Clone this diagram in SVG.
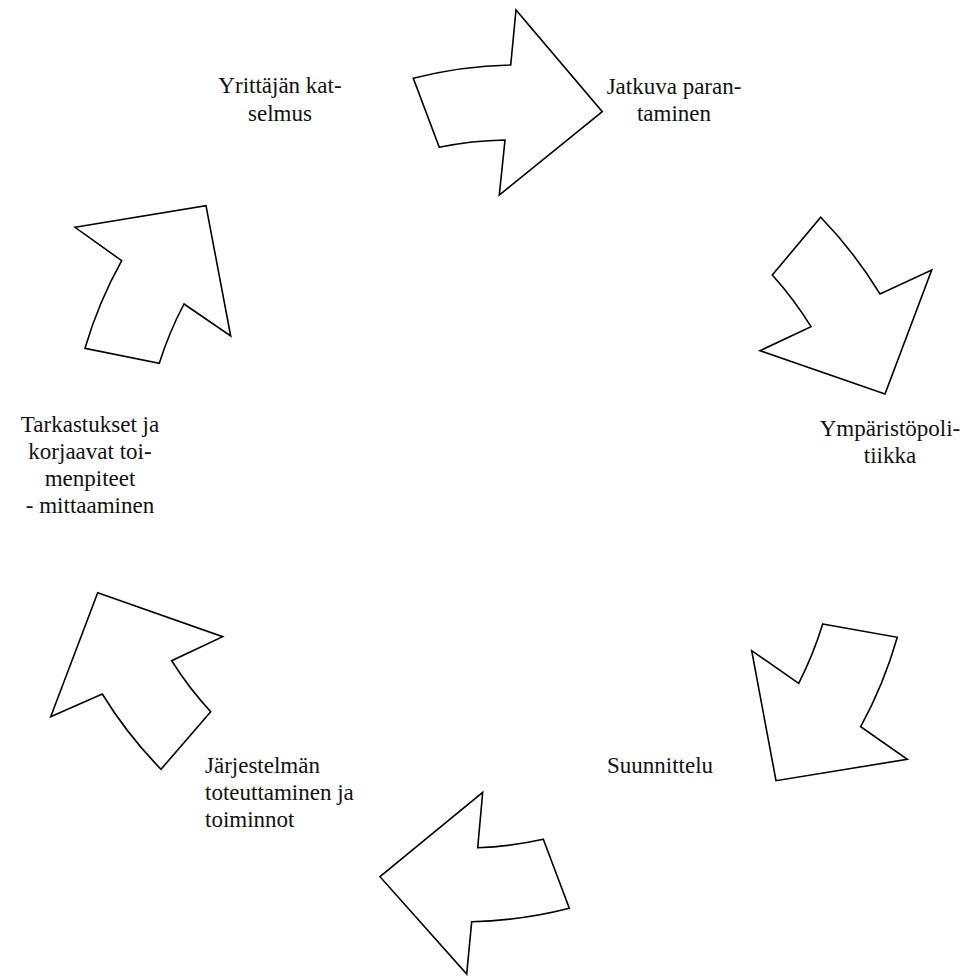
<svg xmlns="http://www.w3.org/2000/svg" width="975" height="976" viewBox="0 0 975 976">
<style>
.arrow{fill:#ffffff;stroke:#000000;stroke-width:1.6;stroke-linejoin:miter}
.c{text-anchor:middle}
</style>
<rect width="975" height="976" fill="#ffffff"/>
<g id="connectors">
<g id="arrow1"><path class="arrow" d="M413.3,78.3 A425,425 0 0 1 510.7,65 L516,10 L602.3,111.7 L499.3,195 L505,140 A350,350 0 0 0 439.3,147.3 Z"/></g>
<g id="arrow2"><path class="arrow" d="M820.7,217.3 A432,432 0 0 1 880,294 L931.7,270 L885,394 L760,350.7 L811,326.7 A357,357 0 0 0 772.3,275 Z"/></g>
<g id="arrow3"><path class="arrow" d="M822.7,624 L897.3,637.3 A437,437 0 0 1 860.7,726.7 L907.3,759.3 L776,780.7 L751.7,650.7 L798.7,683.3 A363,363 0 0 0 822.7,624 Z"/></g>
<g id="arrow4"><path class="arrow" d="M482.7,792.3 L477.7,847.7 A356,356 0 0 0 543.3,839.3 L569.3,908.3 A429,429 0 0 1 471.7,921.7 L466.7,974 L380,876.7 Z"/></g>
<g id="arrow5"><path class="arrow" d="M97.7,592.7 L222.7,636.7 L171.7,660.7 A356,356 0 0 0 210.7,711.7 L161,769.3 A432,432 0 0 1 102.3,694 L50.7,716.7 Z"/></g>
<g id="arrow6"><path class="arrow" d="M75,227.3 L206,205.7 L230.7,336 L184,304 A353,353 0 0 0 159.3,363.3 L85,348.3 A428,428 0 0 1 121.7,260.7 Z"/></g>
</g>
<g font-family="Liberation Serif, serif" font-size="23" fill="#111111">
<g id="node-yrittajan">
<text class="c" x="280" y="93">Yrittäjän kat-</text>
<text class="c" x="280" y="121">selmus</text>
</g>
<g id="node-jatkuva">
<text class="c" x="674" y="94">Jatkuva paran-</text>
<text class="c" x="674" y="121">taminen</text>
</g>
<g id="node-ymparisto">
<text class="c" x="890" y="436">Ympäristöpoli-</text>
<text class="c" x="890" y="463">tiikka</text>
</g>
<g id="node-suunnittelu">
<text x="607" y="773">Suunnittelu</text>
</g>
<g id="node-jarjestelman">
<text x="205" y="773">Järjestelmän</text>
<text x="205" y="800">toteuttaminen ja</text>
<text x="205" y="827">toiminnot</text>
</g>
<g id="node-tarkastukset">
<text class="c" x="90" y="432">Tarkastukset ja</text>
<text class="c" x="90" y="459">korjaavat toi-</text>
<text class="c" x="90" y="486">menpiteet</text>
<text class="c" x="90" y="513">- mittaaminen</text>
</g>
</g>
</svg>
